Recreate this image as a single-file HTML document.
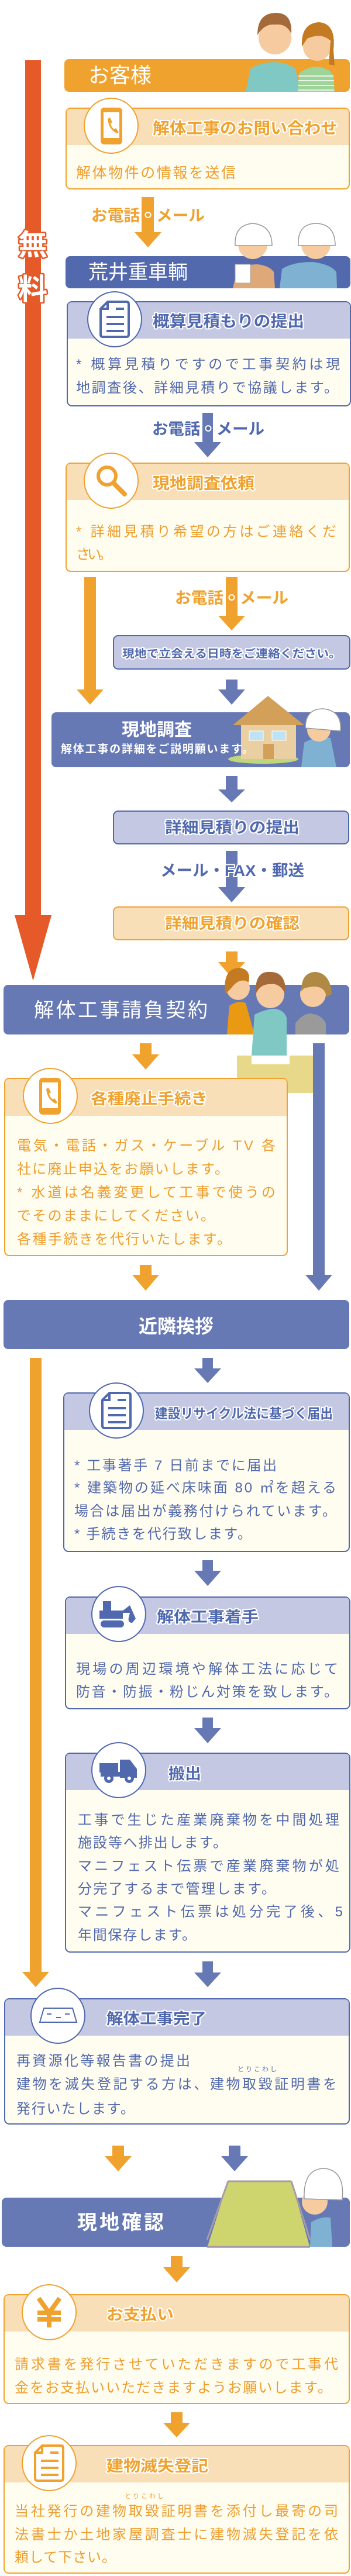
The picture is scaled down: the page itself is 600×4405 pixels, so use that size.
<!DOCTYPE html>
<html><head><meta charset="utf-8"><style>
html,body{margin:0;padding:0;background:#fff;}
svg{display:block;}
text{font-family:"Liberation Sans","Noto Sans CJK JP",sans-serif;}
.b{font-weight:bold;}
.ot{fill:#F0A22E;stroke:#fff;stroke-width:4;paint-order:stroke;stroke-linejoin:round;font-weight:bold;}
.bt{fill:#5068AE;stroke:#fff;stroke-width:4;paint-order:stroke;stroke-linejoin:round;font-weight:bold;}
.ob{fill:#EE9D2C;}
.bb{fill:#5068AE;}
.w{fill:#fff;}
</style></head><body>
<svg width="600" height="4405" viewBox="0 0 600 4405" xmlns="http://www.w3.org/2000/svg">
<defs>
<g id="doc"><path d="M-12,-30 L20,-30 Q24,-30 24,-26 L24,26 Q24,30 20,30 L-20,30 Q-24,30 -24,26 L-24,-18 Z" fill="none" stroke-width="4" stroke-linejoin="round"/><path d="M-24,-18 L-12,-18 L-12,-30" fill="none" stroke-width="4"/><path d="M2,-18 H16 M-14,-4 H16 M-14,8 H16 M-14,20 H16" stroke-width="4"/></g>
</defs>

<!-- red free bar -->
<rect x="43" y="103" width="27" height="1462" fill="#E55A28"/>
<polygon points="25,1565 88,1565 56.5,1677" fill="#E55A28"/>
<text x="56" y="436" font-size="50" text-anchor="middle" class="b" fill="#fff" stroke="#E55A28" stroke-width="5" paint-order="stroke" stroke-linejoin="round">無</text>
<text x="56" y="512" font-size="50" text-anchor="middle" class="b" fill="#fff" stroke="#E55A28" stroke-width="5" paint-order="stroke" stroke-linejoin="round">料</text>

<!-- orange bar lower -->
<rect x="51" y="2322" width="20" height="1050" fill="#F0A22E"/>
<polygon points="38,3372 84,3372 61,3398" fill="#F0A22E"/>

<!-- arrows -->
<g fill="#F0A22E">
<rect x="242" y="337" width="21" height="60"/><polygon points="230,397 276,397 253,423"/>
<rect x="144" y="987" width="20" height="192"/><polygon points="131,1179 177,1179 154,1205"/>
<rect x="386" y="987" width="20" height="66"/><polygon points="373,1053 419,1053 396,1078"/>
<rect x="386" y="1627" width="20" height="18"/><polygon points="373,1645 419,1645 396,1672"/>
<rect x="239" y="1784" width="20" height="19"/><polygon points="226,1803 272,1803 249,1829"/>
<rect x="239" y="2163" width="20" height="17"/><polygon points="226,2180 272,2180 249,2207"/>
<rect x="192" y="3669" width="20" height="18"/><polygon points="179,3687 225,3687 202,3713"/>
<rect x="292" y="3858" width="20" height="19"/><polygon points="279,3877 325,3877 302,3903"/>
<rect x="292" y="4125" width="20" height="18"/><polygon points="279,4143 325,4143 302,4168"/>
</g>
<g fill="#6679B5">
<rect x="346" y="706" width="18" height="50"/><polygon points="332,756 378,756 355,782"/>
<rect x="386" y="1162" width="20" height="17"/><polygon points="373,1179 419,1179 396,1205"/>
<rect x="386" y="1327" width="20" height="23"/><polygon points="373,1350 419,1350 396,1372"/>
<rect x="386" y="1455" width="20" height="62"/><polygon points="373,1517 419,1517 396,1543"/>
<rect x="535" y="1784" width="20" height="396"/><polygon points="522,2180 568,2180 545,2207"/>
<rect x="346" y="2322" width="18" height="18"/><polygon points="332,2340 378,2340 355,2365"/>
<rect x="346" y="2668" width="18" height="18"/><polygon points="332,2686 378,2686 355,2712"/>
<rect x="346" y="2937" width="18" height="18"/><polygon points="332,2955 378,2955 355,2981"/>
<rect x="346" y="3354" width="18" height="19"/><polygon points="332,3373 378,3373 355,3398"/>
<rect x="391" y="3669" width="20" height="18"/><polygon points="378,3687 424,3687 401,3713"/>
</g>

<!-- arrow labels -->
<text x="156" y="378" font-size="27" class="ot" stroke-width="6" textLength="194" lengthAdjust="spacingAndGlyphs">お電話・メール</text>
<text x="260" y="743" font-size="27" class="bt" stroke-width="6" textLength="192" lengthAdjust="spacingAndGlyphs">お電話・メール</text>
<text x="299" y="1032" font-size="27" class="ot" stroke-width="6" textLength="194" lengthAdjust="spacingAndGlyphs">お電話・メール</text>
<text x="274" y="1498" font-size="27" class="bt" stroke-width="6" textLength="246" lengthAdjust="spacingAndGlyphs">メール・FAX・郵送</text>

<!-- お客様 -->
<rect x="110" y="101" width="488" height="56" rx="8" fill="#F0A22E"/>
<text x="151" y="141" font-size="36" class="w">お客様</text>
<!-- couple -->
<g>
<path d="M420,157 L428,118 Q440,108 468,106 Q495,108 505,118 L515,157 Z" fill="#7FC8C4"/>
<path d="M508,157 L512,125 Q525,114 545,114 Q565,118 570,130 L572,157 Z" fill="#9ED39A"/>
<g stroke="#fff" stroke-width="1.5"><path d="M510,130 H570 M510,138 H571 M510,146 H571 M510,154 H571"/></g>
<circle cx="470" cy="65" r="28" fill="#F6CBA0"/>
<path d="M440,60 Q440,22 472,22 Q500,22 498,58 Q490,40 470,42 Q452,40 440,60 Z" fill="#A46A3A"/>
<circle cx="542" cy="80" r="24" fill="#F6CBA0"/>
<path d="M516,80 Q514,40 545,38 Q575,40 570,85 L572,112 L562,110 L565,70 Q550,55 525,66 Z" fill="#C47A22"/>
</g>

<!-- inquiry box -->
<rect x="113" y="185" width="484" height="138" rx="8" fill="#FFFDF0" stroke="#F0A22E" stroke-width="2"/>
<path d="M114,248 V193 Q114,186 121,186 H589 Q596,186 596,193 V248 Z" fill="#F9DFB8"/>
<ellipse cx="190" cy="215" rx="46" ry="47" fill="#fff" stroke="#F0A22E" stroke-width="2"/>
<rect x="172" y="184" width="37" height="63" rx="6" fill="#F0A22E"/><rect x="177" y="192" width="27" height="44" fill="#fff"/>
<path d="M184,203 l4,-2 4,8 -3,2 q1,6 6,10 l3,-2 5,7 -3,2 q-14,-6 -16,-25z" fill="#F0A22E"/>
<text x="261" y="229" font-size="27" class="ot" textLength="316" lengthAdjust="spacingAndGlyphs">解体工事のお問い合わせ</text>
<text x="130" y="304" font-size="25" class="ob" textLength="273">解体物件の情報を送信</text>

<!-- 荒井重車輌 -->
<rect x="112" y="438" width="487" height="55" rx="8" fill="#5269AE"/>
<text x="151" y="477" font-size="34" class="w">荒井重車輌</text>
<!-- workers -->
<g>
<path d="M398,493 L405,462 Q420,452 440,452 Q460,454 468,465 L470,493 Z" fill="#DFA878"/>
<rect x="402" y="452" width="26" height="32" fill="#fff" stroke="#aaa"/>
<path d="M478,493 L482,460 Q500,448 535,448 Q565,452 575,465 L576,493 Z" fill="#7FB2D2"/>
<circle cx="432" cy="418" r="25" fill="#F6CBA0"/>
<path d="M402,420 Q400,385 432,382 Q465,385 465,420 Z" fill="#fff" stroke="#999" stroke-width="1.5"/>
<circle cx="540" cy="418" r="25" fill="#F6CBA0"/>
<path d="M510,420 Q508,383 540,382 Q573,383 573,420 Z" fill="#fff" stroke="#999" stroke-width="1.5"/>
</g>

<!-- 概算 box -->
<rect x="115" y="516" width="484" height="178" rx="8" fill="#FFFDF0" stroke="#5068AE" stroke-width="2"/>
<path d="M116,579 V524 Q116,517 123,517 H591 Q598,517 598,524 V579 Z" fill="#C5C8E2"/>
<ellipse cx="196" cy="546" rx="46" ry="47" fill="#fff" stroke="#5068AE" stroke-width="2"/>
<use href="#doc" x="196" y="546" stroke="#5068AE"/>
<text x="261" y="559" font-size="27" class="bt" textLength="259" lengthAdjust="spacingAndGlyphs">概算見積もりの提出</text>
<text x="130" y="631" font-size="24" class="bb" textLength="451">*  概算見積りですので工事契約は現</text>
<text x="130" y="671" font-size="24" class="bb" textLength="448">地調査後、詳細見積りで協議します。</text>

<!-- 依頼 box -->
<rect x="113" y="792" width="484" height="185" rx="8" fill="#FFFDF0" stroke="#F0A22E" stroke-width="2"/>
<path d="M114,855 V800 Q114,793 121,793 H589 Q596,793 596,800 V855 Z" fill="#F9DFB8"/>
<ellipse cx="190" cy="822" rx="46" ry="47" fill="#fff" stroke="#F0A22E" stroke-width="2"/>
<circle cx="183" cy="814" r="15" fill="none" stroke="#F0A22E" stroke-width="6"/>
<path d="M194,826 L213,845" stroke="#F0A22E" stroke-width="8" stroke-linecap="round"/>
<text x="261" y="836" font-size="27" class="ot" textLength="174" lengthAdjust="spacingAndGlyphs">現地調査依頼</text>
<text x="130" y="917" font-size="24" class="ob" textLength="445">*  詳細見積り希望の方はご連絡くだ</text>
<text x="130" y="956" font-size="24" class="ob" textLength="62">さい。</text>

<!-- small blue box -->
<rect x="194" y="1087" width="404" height="57" rx="8" fill="#C5C8E2" stroke="#5068AE" stroke-width="2"/>
<text x="209" y="1124" font-size="19" class="bt" stroke-width="3" textLength="374" lengthAdjust="spacingAndGlyphs">現地で立会える日時をご連絡ください。</text>

<!-- 現地調査 -->
<rect x="88" y="1218" width="510" height="94" rx="8" fill="#6679B5"/>
<g>
<ellipse cx="450" cy="1298" rx="60" ry="8" fill="#BFD67A"/>
<rect x="412" y="1238" width="94" height="60" fill="#E9CFA2"/>
<polygon points="398,1240 458,1190 520,1240" fill="#D3A05A"/>
<rect x="426" y="1250" width="24" height="16" fill="#BFE3F5" stroke="#fff"/>
<rect x="465" y="1250" width="24" height="16" fill="#BFE3F5" stroke="#fff"/>
<rect x="450" y="1272" width="18" height="26" fill="#D3A05A"/>
<path d="M515,1312 L520,1270 Q540,1258 565,1262 L575,1312 Z" fill="#7FB2D2"/>
<circle cx="545" cy="1248" r="20" fill="#F6CBA0"/>
<path d="M522,1245 Q522,1212 552,1212 Q585,1215 582,1250 Z" fill="#fff" stroke="#999" stroke-width="1.5"/>
</g>
<text x="268" y="1258" font-size="30" class="w b" text-anchor="middle">現地調査</text>
<text x="104" y="1287" font-size="19" class="w b" textLength="329">解体工事の詳細をご説明願います。</text>

<!-- 詳細提出 / 確認 -->
<rect x="194" y="1387" width="402" height="56" rx="8" fill="#C5C8E2" stroke="#5068AE" stroke-width="2"/>
<text x="282" y="1424" font-size="26" class="bt" textLength="230" lengthAdjust="spacingAndGlyphs">詳細見積りの提出</text>
<rect x="194" y="1551" width="402" height="56" rx="8" fill="#F9DFB8" stroke="#F0A22E" stroke-width="2"/>
<text x="282" y="1588" font-size="26" class="ot" textLength="230" lengthAdjust="spacingAndGlyphs">詳細見積りの確認</text>

<!-- 請負契約 -->
<rect x="6" y="1684" width="591" height="85" rx="8" fill="#6679B5"/>
<text x="58" y="1739" font-size="34" class="w" textLength="297">解体工事請負契約</text>
<g>
<rect x="405" y="1805" width="130" height="64" fill="#E8D98A"/>
<rect x="430" y="1805" width="65" height="15" fill="#fff"/>
<path d="M388,1769 L392,1720 Q405,1710 420,1715 L435,1769 Z" fill="#E99A12"/>
<circle cx="407" cy="1690" r="20" fill="#F6CBA0"/>
<path d="M385,1700 Q380,1655 410,1655 Q430,1658 425,1680 Q410,1670 395,1690 Z" fill="#C47A22"/>
<path d="M430,1805 L435,1735 Q455,1725 470,1725 Q485,1727 490,1740 L490,1805 Z" fill="#7FC8C4"/>
<circle cx="462" cy="1700" r="24" fill="#F6CBA0"/>
<path d="M437,1700 Q435,1660 462,1662 Q490,1662 488,1700 Q478,1680 462,1683 Q445,1682 437,1700 Z" fill="#A46A3A"/>
<path d="M505,1769 L505,1750 Q515,1735 530,1733 Q550,1735 557,1750 L557,1769 Z" fill="#9A9A9A"/>
<circle cx="535" cy="1700" r="22" fill="#F6CBA0"/>
<path d="M515,1695 Q515,1662 540,1662 Q565,1665 567,1700 L558,1705 Q555,1680 520,1690 Z" fill="#B08A44"/>
</g>

<!-- 各種廃止 -->
<rect x="8" y="1844" width="483" height="303" rx="8" fill="#FFFDF0" stroke="#F0A22E" stroke-width="2"/>
<path d="M9,1908 V1852 Q9,1845 16,1845 H483 Q490,1845 490,1852 V1908 Z" fill="#F9DFB8"/>
<ellipse cx="86" cy="1874" rx="46" ry="47" fill="#fff" stroke="#F0A22E" stroke-width="2"/>
<rect x="67" y="1843" width="37" height="63" rx="6" fill="#F0A22E"/><rect x="72" y="1851" width="27" height="44" fill="#fff"/>
<path d="M79,1862 l4,-2 4,8 -3,2 q1,6 6,10 l3,-2 5,7 -3,2 q-14,-6 -16,-25z" fill="#F0A22E"/>
<text x="155" y="1888" font-size="26" class="ot" textLength="200" lengthAdjust="spacingAndGlyphs">各種廃止手続き</text>
<text x="29" y="1967" font-size="24" class="ob" textLength="442">電気・電話・ガス・ケーブル TV 各</text>
<text x="29" y="2007" font-size="24" class="ob" textLength="362">社に廃止申込をお願いします。</text>
<text x="29" y="2047" font-size="24" class="ob" textLength="442">*  水道は名義変更して工事で使うの</text>
<text x="29" y="2087" font-size="24" class="ob" textLength="338">でそのままにしてください。</text>
<text x="29" y="2127" font-size="24" class="ob" textLength="366">各種手続きを代行いたします。</text>

<!-- 近隣挨拶 -->
<rect x="6" y="2223" width="591" height="84" rx="8" fill="#6679B5"/>
<text x="301" y="2279" font-size="32" class="w b" text-anchor="middle">近隣挨拶</text>

<!-- 建設リサイクル -->
<rect x="109" y="2382" width="488" height="271" rx="8" fill="#FFFDF0" stroke="#5068AE" stroke-width="2"/>
<path d="M110,2445 V2390 Q110,2383 117,2383 H589 Q596,2383 596,2390 V2445 Z" fill="#C5C8E2"/>
<ellipse cx="199" cy="2412" rx="46" ry="47" fill="#fff" stroke="#5068AE" stroke-width="2"/>
<use href="#doc" x="199" y="2412" stroke="#5068AE"/>
<text x="265" y="2425" font-size="23" class="bt" textLength="304" lengthAdjust="spacingAndGlyphs">建設リサイクル法に基づく届出</text>
<text x="127" y="2514" font-size="24" class="bb" textLength="346">* 工事著手 7 日前までに届出</text>
<text x="127" y="2552" font-size="24" class="bb" textLength="448">*  建築物の延べ床味面 80 ㎡を超える</text>
<text x="127" y="2592" font-size="24" class="bb" textLength="448">場合は届出が義務付けられています。</text>
<text x="127" y="2631" font-size="24" class="bb" textLength="303">* 手続きを代行致します。</text>

<!-- 着手 -->
<rect x="112" y="2731" width="486" height="191" rx="8" fill="#FFFDF0" stroke="#5068AE" stroke-width="2"/>
<path d="M113,2794 V2739 Q113,2732 120,2732 H590 Q597,2732 597,2739 V2794 Z" fill="#C5C8E2"/>
<ellipse cx="203" cy="2760" rx="46" ry="47" fill="#fff" stroke="#5068AE" stroke-width="2"/>
<g fill="#5068AE"><rect x="176" y="2738" width="14" height="18"/><rect x="170" y="2754" width="40" height="14"/><rect x="172" y="2771" width="40" height="12" rx="6"/><path d="M205,2758 L222,2745 L232,2768 L226,2775 Q218,2775 220,2766 L222,2758 Z"/></g>
<text x="268" y="2774" font-size="26" class="bt" textLength="174" lengthAdjust="spacingAndGlyphs">解体工事着手</text>
<text x="130" y="2862" font-size="24" class="bb" textLength="448">現場の周辺環境や解体工法に応じて</text>
<text x="130" y="2901" font-size="24" class="bb" textLength="448">防音・防振・粉じん対策を致します。</text>

<!-- 搬出 -->
<rect x="112" y="2998" width="486" height="340" rx="8" fill="#FFFDF0" stroke="#5068AE" stroke-width="2"/>
<path d="M113,3061 V3006 Q113,2999 120,2999 H590 Q597,2999 597,3006 V3061 Z" fill="#C5C8E2"/>
<ellipse cx="203" cy="3027" rx="46" ry="47" fill="#fff" stroke="#5068AE" stroke-width="2"/>
<g fill="#5068AE"><rect x="170" y="3015" width="32" height="16"/><path d="M205,3009 H222 L234,3025 V3040 H205 Z"/><rect x="172" y="3030" width="60" height="8"/><circle cx="186" cy="3041" r="8"/><circle cx="221" cy="3041" r="8"/></g>
<g fill="#fff"><circle cx="186" cy="3041" r="3"/><circle cx="221" cy="3041" r="3"/></g>
<text x="288" y="3042" font-size="26" class="bt" textLength="56" lengthAdjust="spacingAndGlyphs">搬出</text>
<text x="133" y="3120" font-size="24" class="bb" textLength="447">工事で生じた産業廃棄物を中間処理</text>
<text x="133" y="3159" font-size="24" class="bb" textLength="255">施設等へ排出します。</text>
<text x="133" y="3199" font-size="24" class="bb" textLength="447">マニフェスト伝票で産業廃棄物が処</text>
<text x="133" y="3238" font-size="24" class="bb" textLength="338">分完了するまで管理します。</text>
<text x="133" y="3277" font-size="24" class="bb" textLength="453">マニフェスト伝票は処分完了後、5</text>
<text x="133" y="3317" font-size="24" class="bb" textLength="202">年間保存します。</text>

<!-- 完了 -->
<rect x="8" y="3418" width="589" height="214" rx="8" fill="#FFFDF0" stroke="#5068AE" stroke-width="2"/>
<path d="M9,3481 V3426 Q9,3419 16,3419 H589 Q596,3419 596,3426 V3481 Z" fill="#C5C8E2"/>
<ellipse cx="99" cy="3447" rx="46" ry="47" fill="#fff" stroke="#5068AE" stroke-width="2"/>
<polygon points="68,3458 75,3434 124,3434 131,3458" fill="none" stroke="#5068AE" stroke-width="2"/>
<path d="M80,3444 h8 M96,3450 h8 M111,3444 h8" stroke="#5068AE" stroke-width="2"/>
<text x="182" y="3461" font-size="26" class="bt" textLength="171" lengthAdjust="spacingAndGlyphs">解体工事完了</text>
<text x="28" y="3532" font-size="24" class="bb" textLength="297">再資源化等報告書の提出</text>
<text x="406" y="3542" font-size="11" class="bb" textLength="67">とりこわし</text>
<text x="28" y="3572" font-size="24" class="bb" textLength="548">建物を滅失登記する方は、建物取毀証明書を</text>
<text x="28" y="3614" font-size="24" class="bb" textLength="202">発行いたします。</text>

<!-- 現地確認 -->
<rect x="3" y="3758" width="595" height="84" rx="8" fill="#6679B5"/>
<g>
<polygon points="354,3844 390,3730 498,3730 530,3844" fill="#CFD56E"/>
<path d="M354,3842 H530 M390,3730 H498 M354,3830 L390,3730 M530,3830 L498,3730" stroke="#A79BA8" stroke-width="3" fill="none"/>
<path d="M530,3842 L532,3800 Q548,3790 565,3792 L568,3842 Z" fill="#7FB2D2"/>
<circle cx="538" cy="3765" r="22" fill="#F6CBA0"/>
<path d="M520,3760 Q518,3708 555,3708 Q590,3712 585,3762 Z" fill="#fff" stroke="#999" stroke-width="1.5"/>
</g>
<text x="132" y="3812" font-size="34" class="w b" textLength="148">現地確認</text>

<!-- お支払い -->
<rect x="7" y="3924" width="590" height="186" rx="8" fill="#FFFDF0" stroke="#F0A22E" stroke-width="2"/>
<path d="M8,3987 V3932 Q8,3925 15,3925 H589 Q596,3925 596,3932 V3987 Z" fill="#F9DFB8"/>
<ellipse cx="84" cy="3954" rx="46" ry="47" fill="#fff" stroke="#F0A22E" stroke-width="2"/>
<path d="M66,3930 L84,3955 L102,3930 M84,3955 V3980 M64,3955 H104 M64,3966 H104" stroke="#F0A22E" stroke-width="8" fill="none"/>
<text x="182" y="3967" font-size="26" class="ot" textLength="115" lengthAdjust="spacingAndGlyphs">お支払い</text>
<text x="25" y="4051" font-size="24" class="ob" textLength="553">請求書を発行させていただきますので工事代</text>
<text x="25" y="4091" font-size="24" class="ob" textLength="542">金をお支払いいただきますようお願いします。</text>

<!-- 建物滅失登記 -->
<rect x="7" y="4182" width="590" height="218" rx="8" fill="#FFFDF0" stroke="#F0A22E" stroke-width="2"/>
<path d="M8,4245 V4190 Q8,4183 15,4183 H589 Q596,4183 596,4190 V4245 Z" fill="#F9DFB8"/>
<ellipse cx="84" cy="4212" rx="46" ry="47" fill="#fff" stroke="#F0A22E" stroke-width="2"/>
<use href="#doc" x="84" y="4212" stroke="#F0A22E"/>
<text x="182" y="4226" font-size="26" class="ot" textLength="174" lengthAdjust="spacingAndGlyphs">建物滅失登記</text>
<text x="213" y="4272" font-size="11" class="ob" textLength="67">とりこわし</text>
<text x="25" y="4302" font-size="24" class="ob" textLength="553">当社発行の建物取毀証明書を添付し最寄の司</text>
<text x="25" y="4342" font-size="24" class="ob" textLength="553">法書士か土地家屋調査士に建物滅失登記を依</text>
<text x="25" y="4381" font-size="24" class="ob" textLength="173">頼して下さい。</text>
</svg>
</body></html>
